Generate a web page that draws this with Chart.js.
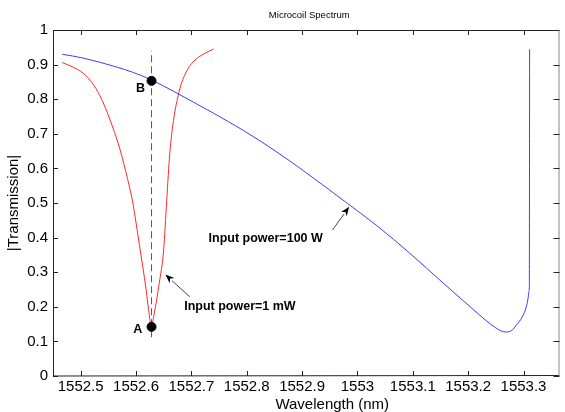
<!DOCTYPE html>
<html>
<head>
<meta charset="utf-8">
<script src="https://cdn.jsdelivr.net/npm/chart.js@4/dist/chart.umd.min.js"></script>
<style>
  html, body { margin: 0; padding: 0; background: #fff; }
  #wrap { width: 565px; height: 412px; }
</style>
</head>
<body>
<div id="wrap"><canvas id="spectrum" width="565" height="412"></canvas></div>
<script>
// espectro a 100 W (azul)
const blueX = [1552.4666, 1552.5042, 1552.5649, 1552.5936, 1552.6276, 1552.6687, 1552.7134, 1552.7671,
               1552.8208, 1552.8923, 1552.9818, 1553.0354, 1553.0944, 1553.1553, 1553.2143, 1553.2286,
               1553.2411, 1553.2500, 1553.2572, 1553.2644, 1553.2697, 1553.2751, 1553.2805, 1553.2859,
               1553.2979, 1553.3050, 1553.3086, 1553.3097, 1553.3105, 1553.3110];
const blueY = [0.930, 0.919, 0.893, 0.878, 0.856, 0.822, 0.783, 0.735,
               0.683, 0.605, 0.499, 0.434, 0.355, 0.268, 0.185, 0.165,
               0.149, 0.139, 0.132, 0.128, 0.127, 0.129, 0.134, 0.145,
               0.171, 0.200, 0.229, 0.244, 0.260, 0.944];

// espectro a 1 mW (vermelho)
const redX = [1552.4666, 1552.4844, 1552.5047, 1552.5202, 1552.5345, 1552.5524, 1552.5703, 1552.5810,
              1552.5882, 1552.5936, 1552.5998, 1552.6061, 1552.6181, 1552.6227, 1552.6275, 1552.6329,
              1552.6419, 1552.6499, 1552.6553, 1552.6610, 1552.6687, 1552.6741, 1552.6794, 1552.6848,
              1552.6902, 1552.6964, 1552.7045, 1552.7134, 1552.7259, 1552.7402];
const redY = [0.906, 0.894, 0.875, 0.848, 0.811, 0.743, 0.659, 0.594,
              0.546, 0.506, 0.445, 0.379, 0.251, 0.192, 0.145, 0.181,
              0.268, 0.364, 0.504, 0.644, 0.749, 0.796, 0.832, 0.858,
              0.877, 0.895, 0.910, 0.922, 0.934, 0.945];

// pontos A e B + linha tracejada
const markX = [1552.628, 1552.628];
const markY = [0.142, 0.853];
const markNames = ['A', 'B'];
const markNameX = [1552.603, 1552.608];
const markNameY = [0.133, 0.832];
const dashX = [1552.628, 1552.628];
const dashY = [0.112, 0.940];

// anotacoes (texto a partir da esquerda, seta cauda -> ponta)
const noteText = ['Input power=1 mW', 'Input power=100 W'];
const noteX = [1552.687, 1552.731];
const noteY = [0.202, 0.398];
const arrowFromX = [1552.697, 1552.955];
const arrowFromY = [0.229, 0.422];
const arrowToX = [1552.653, 1552.985];
const arrowToY = [0.293, 0.489];

// eixos
const xMin = 1552.45, xMax = 1553.365;
const xTicks = [1552.5, 1552.6, 1552.7, 1552.8, 1552.9, 1553.0, 1553.1, 1553.2, 1553.3];
const xTickLabels = ['1552.5', '1552.6', '1552.7', '1552.8', '1552.9', '1553', '1553.1', '1553.2', '1553.3'];
const yTicks = [0, 0.1, 0.2, 0.3, 0.4, 0.5, 0.6, 0.7, 0.8, 0.9, 1];
const yTickLabels = ['0', '0.1', '0.2', '0.3', '0.4', '0.5', '0.6', '0.7', '0.8', '0.9', '1'];
const titulo = 'Microcoil Spectrum';
const xTitulo = 'Wavelength (nm)';
const yTitulo = '|Transmission|';

const FONT = 'Liberation Sans, Arial, sans-serif';

function pares(xs, ys) {
    return xs.map((x, i) => ({ x: x, y: ys[i] }));
}

function seta(ctx, x0, y0, x1, y1) {
    let ang = Math.atan2(y1 - y0, x1 - x0);
    let len = 9, half = 3.5;
    ctx.strokeStyle = '#444';
    ctx.lineWidth = 1;
    ctx.beginPath();
    ctx.moveTo(x0, y0);
    ctx.lineTo(x1 - len * Math.cos(ang), y1 - len * Math.sin(ang));
    ctx.stroke();
    ctx.fillStyle = '#000';
    ctx.beginPath();
    ctx.moveTo(x1, y1);
    ctx.lineTo(x1 - len * Math.cos(ang) - half * Math.sin(ang), y1 - len * Math.sin(ang) + half * Math.cos(ang));
    ctx.lineTo(x1 - len * 0.7 * Math.cos(ang), y1 - len * 0.7 * Math.sin(ang));
    ctx.lineTo(x1 - len * Math.cos(ang) + half * Math.sin(ang), y1 - len * Math.sin(ang) - half * Math.cos(ang));
    ctx.closePath();
    ctx.fill();
}

// moldura estilo matlab com ticks para dentro, titulos e anotacoes
const moldura = {
    id: 'moldura',
    afterDraw(chart) {
        const ctx = chart.ctx;
        const a = chart.chartArea;
        const sx = chart.scales.x, sy = chart.scales.y;
        const meioX = (a.left + a.right) / 2;
        const meioY = (a.top + a.bottom) / 2;
        ctx.save();
        ctx.lineWidth = 1;
        ctx.strokeStyle = '#222';
        ctx.beginPath();
        ctx.moveTo(a.left + 0.5, a.top + 0.5);
        ctx.lineTo(a.right - 0.5, a.top + 0.5);
        ctx.moveTo(a.left + 0.5, a.top);
        ctx.lineTo(a.left + 0.5, a.bottom);
        ctx.lineTo(a.right, a.bottom - 0.5);
        ctx.stroke();
        ctx.strokeStyle = '#888';
        ctx.beginPath();
        ctx.moveTo(a.right - 0.5, a.top);
        ctx.lineTo(a.right - 0.5, a.bottom);
        ctx.stroke();

        ctx.strokeStyle = '#222';
        ctx.beginPath();
        xTicks.forEach(v => {
            let px = Math.round(sx.getPixelForValue(v)) + 0.5;
            ctx.moveTo(px, a.bottom);
            ctx.lineTo(px, a.bottom - 5);
            ctx.moveTo(px, a.top);
            ctx.lineTo(px, a.top + 5);
        });
        yTicks.forEach(v => {
            let py = Math.round(sy.getPixelForValue(v)) + 0.5;
            ctx.moveTo(a.left, py);
            ctx.lineTo(a.left + 5, py);
            ctx.moveTo(a.right, py);
            ctx.lineTo(a.right - 6, py);
        });
        ctx.stroke();

        // titulos
        ctx.fillStyle = '#000';
        ctx.textBaseline = 'middle';
        ctx.textAlign = 'center';
        ctx.font = '9.5px ' + FONT;
        ctx.fillText(titulo, meioX + 3, a.top / 2);
        ctx.font = '15px ' + FONT;
        ctx.fillText(xTitulo, meioX + 26, chart.height - 7.5);
        ctx.save();
        ctx.translate(14, meioY);
        ctx.rotate(-Math.PI / 2);
        ctx.fillText(yTitulo, 0, 0);
        ctx.restore();

        // setas e textos
        for (let i = 0; i < noteText.length; i++) {
            seta(ctx,
                sx.getPixelForValue(arrowFromX[i]), sy.getPixelForValue(arrowFromY[i]),
                sx.getPixelForValue(arrowToX[i]), sy.getPixelForValue(arrowToY[i]));
        }
        ctx.fillStyle = '#000';
        ctx.font = 'bold 12.5px ' + FONT;
        ctx.textBaseline = 'middle';
        ctx.textAlign = 'left';
        for (let i = 0; i < noteText.length; i++) {
            ctx.fillText(noteText[i], sx.getPixelForValue(noteX[i]), sy.getPixelForValue(noteY[i]));
        }
        ctx.textAlign = 'center';
        for (let i = 0; i < markNames.length; i++) {
            ctx.fillText(markNames[i], sx.getPixelForValue(markNameX[i]), sy.getPixelForValue(markNameY[i]));
        }
        ctx.restore();
    }
};

var ctx = document.getElementById('spectrum').getContext('2d');

var grafico = new Chart(ctx, {
    type: 'scatter',
    data: {
        datasets: [
            {
                data: pares(markX, markY),
                pointRadius: 4.5,
                pointBackgroundColor: '#000',
                pointBorderColor: '#000',
                showLine: false
            },
            {
                data: pares(dashX, dashY),
                showLine: true,
                borderColor: '#555',
                borderWidth: 1,
                borderDash: [7, 4],
                pointRadius: 0
            },
            {
                data: pares(blueX, blueY),
                showLine: true,
                borderColor: 'rgb(60,60,255)',
                borderWidth: 1,
                pointRadius: 0,
                cubicInterpolationMode: 'monotone'
            },
            {
                data: pares(redX, redY),
                showLine: true,
                borderColor: 'rgb(255,40,40)',
                borderWidth: 1,
                pointRadius: 0,
                cubicInterpolationMode: 'monotone'
            }
        ]
    },
    options: {
        animation: false,
        responsive: false,
        layout: { padding: { top: 30, right: 1, bottom: 0, left: 0 } },
        plugins: {
            legend: { display: false },
            tooltip: { enabled: false },
            title: { display: false }
        },
        scales: {
            x: {
                type: 'linear',
                min: xMin,
                max: xMax,
                grid: { display: false, drawTicks: false },
                border: { display: false },
                afterBuildTicks: s => { s.ticks = xTicks.map(v => ({ value: v })); },
                afterFit: s => { s.height = 36; },
                ticks: {
                    color: '#000',
                    padding: 2,
                    maxRotation: 0,
                    autoSkip: false,
                    font: { family: FONT, size: 15, lineHeight: 1.2 },
                    callback: (v, i) => xTickLabels[i]
                }
            },
            y: {
                type: 'linear',
                min: 0,
                max: 1,
                grid: { display: false, drawTicks: false },
                border: { display: false },
                afterBuildTicks: s => { s.ticks = yTicks.map(v => ({ value: v })); },
                afterFit: s => { s.width = 53; },
                ticks: {
                    color: '#000',
                    padding: 5,
                    autoSkip: false,
                    font: { family: FONT, size: 15 },
                    callback: (v, i) => yTickLabels[i]
                }
            }
        }
    },
    plugins: [moldura]
});
</script>
</body>
</html>
